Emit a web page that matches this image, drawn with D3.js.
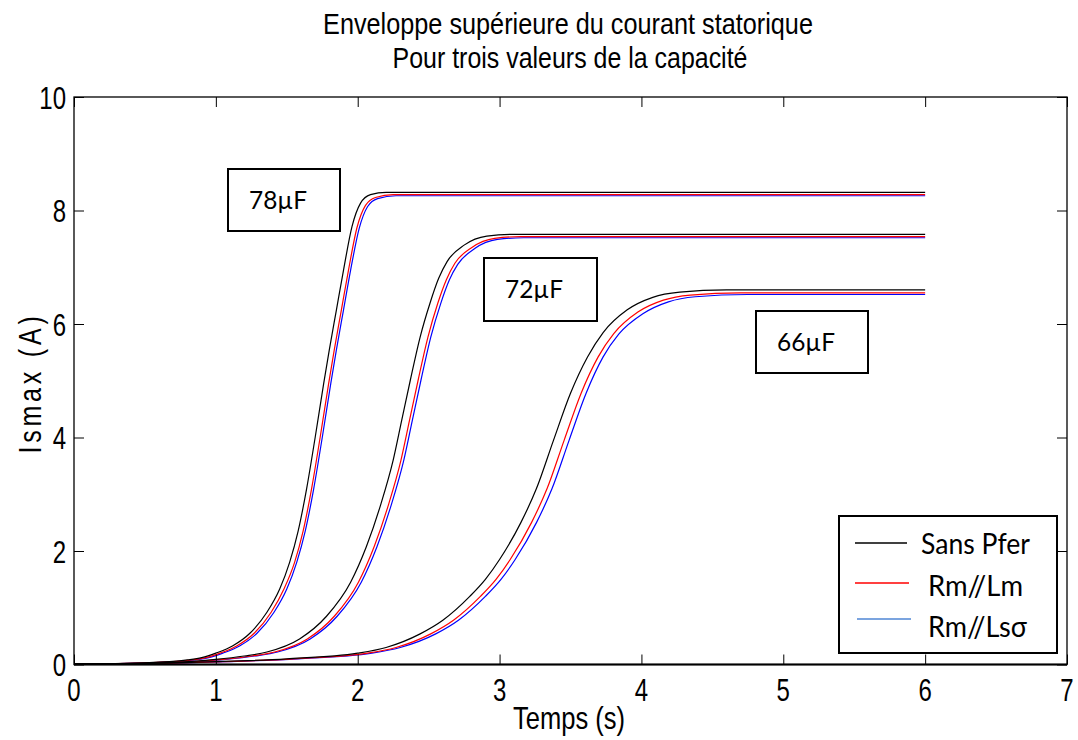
<!DOCTYPE html>
<html>
<head>
<meta charset="utf-8">
<script src="https://cdn.jsdelivr.net/npm/d3@7"></script>
<style>
  html, body { margin: 0; padding: 0; background: #fff; }
  svg { display: block; }
</style>
</head>
<body>
<svg id="chart" width="1078" height="740"></svg>
<script>
// ---- Data -------------------------------------------------------------
const titleLines = ["Enveloppe supérieure du courant statorique", "Pour trois valeurs de la capacité"];
const xLabel = "Temps (s)";
const yLabel = "Ismax (A)";
const xTicks = [0, 1, 2, 3, 4, 5, 6, 7];
const yTicks = [0, 2, 4, 6, 8, 10];
const models = ["Sans Pfer", "Rm//Lm", "Rm//Lsσ"];
const capacitances = ["78µF", "72µF", "66µF"];

// Upper envelope of the stator current, [time (s), current (A)]
const c78SansPfer = [[0,0.01],[0.5,0.03],[0.8,0.08],[0.9,0.12],[1.0,0.2],[1.12,0.33],[1.24,0.55],[1.36,0.92],[1.45,1.33],[1.52,1.8],[1.58,2.35],[1.64,3.1],[1.70,4.0],[1.76,4.95],[1.80,5.55],[1.85,6.25],[1.90,6.95],[1.96,7.72],[2.02,8.13],[2.09,8.28],[2.2,8.32],[6,8.32]];
const c78RmLm = [[0,0.01],[0.53,0.03],[0.83,0.08],[0.93,0.12],[1.03,0.2],[1.15,0.33],[1.27,0.55],[1.39,0.92],[1.48,1.33],[1.555,1.8],[1.615,2.35],[1.675,3.1],[1.735,4.0],[1.795,4.95],[1.835,5.55],[1.885,6.25],[1.935,6.95],[1.995,7.7],[2.055,8.09],[2.125,8.23],[2.25,8.28],[6,8.28]];
const c78RmLs = [[0,0.01],[0.55,0.03],[0.85,0.08],[0.95,0.12],[1.05,0.2],[1.17,0.33],[1.29,0.55],[1.41,0.92],[1.50,1.33],[1.57,1.8],[1.63,2.35],[1.69,3.1],[1.75,4.0],[1.81,4.95],[1.85,5.55],[1.90,6.25],[1.95,6.95],[2.01,7.68],[2.07,8.07],[2.14,8.21],[2.27,8.26],[6,8.26]];

const c72SansPfer = [[0,0.01],[0.6,0.03],[1.0,0.09],[1.2,0.15],[1.36,0.22],[1.59,0.45],[1.78,0.85],[1.95,1.45],[2.06,2.07],[2.16,2.8],[2.25,3.6],[2.31,4.3],[2.37,5.0],[2.44,5.77],[2.51,6.37],[2.57,6.8],[2.63,7.1],[2.75,7.39],[2.91,7.55],[3.1,7.58],[6,7.58]];
const c72RmLm = [[0,0.01],[0.65,0.03],[1.05,0.09],[1.255,0.15],[1.415,0.22],[1.645,0.45],[1.835,0.85],[2.005,1.45],[2.115,2.07],[2.215,2.8],[2.305,3.6],[2.365,4.3],[2.425,5.0],[2.495,5.77],[2.565,6.37],[2.625,6.78],[2.685,7.07],[2.805,7.35],[2.965,7.51],[3.15,7.54],[6,7.54]];
const c72RmLs = [[0,0.01],[0.67,0.03],[1.07,0.09],[1.275,0.15],[1.435,0.22],[1.665,0.45],[1.855,0.85],[2.025,1.45],[2.135,2.07],[2.235,2.8],[2.325,3.6],[2.385,4.3],[2.445,5.0],[2.515,5.77],[2.585,6.36],[2.645,6.77],[2.705,7.05],[2.825,7.33],[2.985,7.49],[3.17,7.52],[6,7.52]];

const c66SansPfer = [[0,0.01],[0.7,0.03],[1.0,0.05],[1.5,0.1],[2.0,0.2],[2.2,0.3],[2.44,0.54],[2.6,0.78],[2.79,1.2],[2.9,1.5],[3.0,1.85],[3.15,2.5],[3.26,3.1],[3.38,3.95],[3.5,4.78],[3.62,5.42],[3.73,5.85],[3.9,6.25],[4.08,6.47],[4.27,6.56],[4.6,6.6],[6,6.6]];
const c66RmLm = [[0,0.01],[0.75,0.03],[1.05,0.05],[1.55,0.1],[2.07,0.2],[2.27,0.3],[2.515,0.54],[2.675,0.78],[2.865,1.2],[2.975,1.5],[3.075,1.85],[3.225,2.5],[3.335,3.1],[3.455,3.95],[3.575,4.78],[3.695,5.42],[3.805,5.83],[3.975,6.21],[4.155,6.42],[4.345,6.51],[4.7,6.55],[6,6.55]];
const c66RmLs = [[0,0.01],[0.78,0.03],[1.08,0.05],[1.58,0.1],[2.1,0.2],[2.3,0.3],[2.55,0.54],[2.71,0.78],[2.9,1.2],[3.01,1.5],[3.11,1.85],[3.26,2.5],[3.37,3.1],[3.49,3.95],[3.61,4.78],[3.73,5.42],[3.84,5.82],[4.01,6.18],[4.19,6.39],[4.38,6.48],[4.75,6.52],[6,6.52]];

// ---- Layout & styles ----------------------------------------------------
const plot = { left: 74, right: 1067, top: 97, bottom: 664.5 };
const lineColors = { "Sans Pfer": "#000000", "Rm//Lm": "#ff0000", "Rm//Lsσ": "#0000ff" };
const legendColors = { "Sans Pfer": "#000000", "Rm//Lm": "#ff0000", "Rm//Lsσ": "#4f86d4" };
const matlabFont = "'Liberation Sans', Arial, sans-serif";
const noteFont = "Lato, 'Noto Sans', sans-serif";
const stretch = 1.28;   // tall, narrow look of the axis text

const series = [
  { cap: capacitances[0], model: models[2], values: c78RmLs },
  { cap: capacitances[1], model: models[2], values: c72RmLs },
  { cap: capacitances[2], model: models[2], values: c66RmLs },
  { cap: capacitances[0], model: models[1], values: c78RmLm },
  { cap: capacitances[1], model: models[1], values: c72RmLm },
  { cap: capacitances[2], model: models[1], values: c66RmLm },
  { cap: capacitances[0], model: models[0], values: c78SansPfer },
  { cap: capacitances[1], model: models[0], values: c72SansPfer },
  { cap: capacitances[2], model: models[0], values: c66SansPfer }
];

const svg = d3.select("#chart");
svg.append("rect").attr("width", 1078).attr("height", 740).attr("fill", "#fff");

const x = d3.scaleLinear().domain([0, 7]).range([plot.left, plot.right]);
const y = d3.scaleLinear().domain([0, 10]).range([plot.bottom, plot.top]);

// Shrink or grow a text's font so that it spans a given width
function fitWidth(sel, width) {
  const len = sel.node().getComputedTextLength();
  const fs = parseFloat(sel.attr("font-size"));
  sel.attr("font-size", (fs * width / len).toFixed(2));
  return sel;
}

// ---- Curves ---------------------------------------------------------------
const line = d3.line()
  .x(d => x(d[0]))
  .y(d => y(d[1]))
  .curve(d3.curveMonotoneX);

svg.append("g").selectAll("path.curve")
  .data(series)
  .join("path")
  .attr("class", "curve")
  .attr("d", d => line(d.values))
  .attr("fill", "none")
  .attr("stroke", d => lineColors[d.model])
  .attr("stroke-width", 1.2);

// ---- Axes (boxed, ticks pointing inwards) ---------------------------------
const tickLen = 10;
const axisStyle = g => {
  g.select(".domain").remove();
  g.selectAll(".tick line").attr("stroke", "#000").attr("stroke-width", 1);
  g.selectAll(".tick text").remove();
};

svg.append("g")
  .attr("transform", `translate(0,${plot.bottom})`)
  .call(d3.axisBottom(x).tickValues(xTicks).tickSizeInner(-tickLen).tickSizeOuter(0))
  .call(axisStyle);
svg.append("g")
  .attr("transform", `translate(0,${plot.top})`)
  .call(d3.axisTop(x).tickValues(xTicks).tickSizeInner(-tickLen).tickSizeOuter(0))
  .call(axisStyle);
svg.append("g")
  .attr("transform", `translate(${plot.left},0)`)
  .call(d3.axisLeft(y).tickValues(yTicks).tickSizeInner(-tickLen).tickSizeOuter(0))
  .call(axisStyle);
svg.append("g")
  .attr("transform", `translate(${plot.right},0)`)
  .call(d3.axisRight(y).tickValues(yTicks).tickSizeInner(-tickLen).tickSizeOuter(0))
  .call(axisStyle);

// Tick labels
svg.append("g").selectAll("text")
  .data(xTicks)
  .join("text")
  .attr("transform", d => `translate(${x(d)},${plot.bottom + 36.5}) scale(1,${stretch})`)
  .attr("text-anchor", "middle")
  .attr("font-family", matlabFont).attr("font-size", 24).attr("fill", "#000")
  .text(d3.format("d"));
svg.append("g").selectAll("text")
  .data(yTicks)
  .join("text")
  .attr("transform", d => `translate(${plot.left - 8},${y(d) + 11.5}) scale(1,${stretch})`)
  .attr("text-anchor", "end")
  .attr("font-family", matlabFont).attr("font-size", 24).attr("fill", "#000")
  .text(d3.format("d"));

// Frame
svg.append("rect")
  .attr("x", plot.left).attr("y", plot.top)
  .attr("width", plot.right - plot.left).attr("height", plot.bottom - plot.top)
  .attr("fill", "none").attr("stroke", "#000").attr("stroke-width", 1.3);
svg.append("line")
  .attr("x1", plot.left).attr("x2", plot.right)
  .attr("y1", plot.bottom).attr("y2", plot.bottom)
  .attr("stroke", "#000").attr("stroke-width", 2);

// ---- Title and axis labels -----------------------------------------------
const titleSpecs = [
  { cx: 568, base: 34, width: 490 },
  { cx: 570, base: 68, width: 355 }
];
titleLines.forEach((t, i) => {
  const s = titleSpecs[i];
  const txt = svg.append("text")
    .attr("transform", `translate(${s.cx},${s.base}) scale(1,1.2)`)
    .attr("text-anchor", "middle")
    .attr("font-family", matlabFont).attr("font-size", 25)
    .attr("fill", "#000")
    .text(t);
  fitWidth(txt, s.width);
});

const xl = svg.append("text")
  .attr("transform", `translate(569,729) scale(1,1.22)`)
  .attr("text-anchor", "middle")
  .attr("font-family", matlabFont).attr("font-size", 25)
  .attr("fill", "#000")
  .text(xLabel);
fitWidth(xl, 112);

svg.append("text")
  .attr("transform", `translate(41,383) rotate(-90) scale(1,1.22)`)
  .attr("text-anchor", "middle")
  .attr("font-family", matlabFont).attr("font-size", 25)
  .attr("letter-spacing", 3.8)
  .attr("fill", "#000")
  .text(yLabel);

// ---- Capacitance annotations ------------------------------------------------
const noteBoxes = [
  { x: 228, y: 169, w: 112, h: 62 },
  { x: 484, y: 258, w: 113, h: 63 },
  { x: 756, y: 311, w: 112, h: 62 }
];
capacitances.forEach((c, i) => {
  const b = noteBoxes[i];
  svg.append("rect")
    .attr("x", b.x).attr("y", b.y).attr("width", b.w).attr("height", b.h)
    .attr("fill", "#fff").attr("stroke", "#000").attr("stroke-width", 2);
  const t = svg.append("text")
    .attr("transform", `translate(${b.x + 21},${b.y + 40}) scale(1,1.06)`)
    .attr("font-family", noteFont).attr("font-size", 26)
    .attr("fill", "#000")
    .text(c);
  fitWidth(t, 58);
});

// ---- Legend -------------------------------------------------------------------
const legend = { x: 839, y: 516, w: 218, h: 137 };
svg.append("rect")
  .attr("x", legend.x).attr("y", legend.y).attr("width", legend.w).attr("height", legend.h)
  .attr("fill", "#fff").attr("stroke", "#000").attr("stroke-width", 2);

const legendRows = [
  { lineY: 543, x1: 855, x2: 907, tx: 921, base: 554, width: 109 },
  { lineY: 583, x1: 855, x2: 909, tx: 928, base: 596, width: 95 },
  { lineY: 619, x1: 857, x2: 911, tx: 928, base: 637, width: 99 }
];
models.forEach((m, i) => {
  const r = legendRows[i];
  svg.append("line")
    .attr("x1", r.x1).attr("x2", r.x2).attr("y1", r.lineY).attr("y2", r.lineY)
    .attr("stroke", legendColors[m]).attr("stroke-width", 1.6);
  const t = svg.append("text")
    .attr("transform", `translate(${r.tx},${r.base}) scale(1,1.06)`)
    .attr("font-family", noteFont).attr("font-size", 26)
    .attr("fill", "#000")
    .text(m);
  fitWidth(t, r.width);
});
</script>
</body>
</html>
